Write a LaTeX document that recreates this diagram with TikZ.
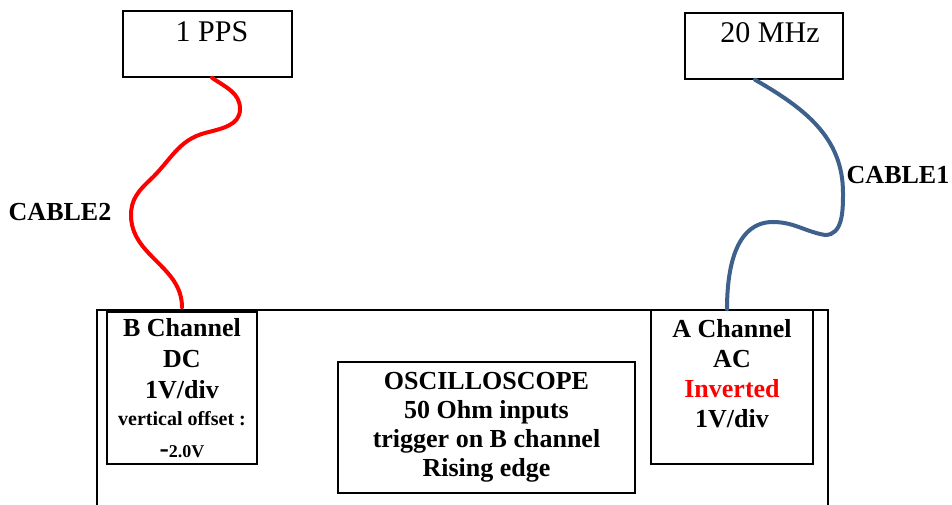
\documentclass[tikz,border=0pt]{standalone}
\usepackage{fontspec}
\setmainfont{Liberation Serif}
\usetikzlibrary{positioning}
\definecolor{cableblue}{RGB}{62,96,140}
\begin{document}
\begin{tikzpicture}[x=1pt,y=1pt,
  box/.style={rectangle,draw,line width=1.5pt,inner sep=0pt},
  bf/.style={font=\fontsize{26}{31}\selectfont\bfseries,align=center,inner sep=0pt},
  cable/.style={line width=4pt,line cap=round}]
\useasboundingbox (0,0) rectangle (952,504);
\clip (0,0) rectangle (952,504);
% sources
\node (pps) [box,minimum width=169pt,minimum height=66pt] at (207.5,460) {};
\node (ppstxt) [below=11pt of pps.north,xshift=4.5pt,inner sep=0pt,font=\fontsize{30}{34}\selectfont] {1 PPS};
\node (mhz) [box,minimum width=158pt,minimum height=66pt] at (764,458) {};
\node (mhztxt) [below=10pt of mhz.north,xshift=6pt,inner sep=0pt,font=\fontsize{30}{34}\selectfont] {20 MHz};
% oscilloscope
\draw [box] (97,-20) rectangle (828,194);
\node (bch) [box,bf,minimum width=150pt,minimum height=152pt] at (182,116)
  {B Channel\\DC\\1V/div\\[-4pt]{\fontsize{20}{20}\selectfont vertical offset :}\\[1pt]{\fontsize{28}{28}\selectfont -}{\fontsize{18}{18}\selectfont 2.0V}};
\node (ach) [box,minimum width=162pt,minimum height=154pt] at (732,117) {};
\node (achtxt) [bf,font=\fontsize{26}{30}\selectfont\bfseries,below=10pt of ach.north] {A Channel\\AC\\\textcolor{red}{Inverted}\\1V/div};
\node (scope) [box,bf,font=\fontsize{26}{29}\selectfont\bfseries,minimum width=297pt,minimum height=131pt] at (486.5,76.5)
  {OSCILLOSCOPE\\50 Ohm inputs\\trigger on B channel\\Rising edge};
% cables
\node (c2) [bf] at (60,292) {CABLE2};
\node (c1) [bf] at (898,329) {CABLE1};
\coordinate (r1) at (240,395);
\coordinate (r2) at (205,371);
\coordinate (r3) at (150,324);
\coordinate (r4) at (131,289);
\draw [cable,red] ([xshift=4.5pt]pps.south) to[out=-35,in=90] (r1) to[out=-90,in=15] (r2)
  to[out=195,in=43] (r3) to[out=223,in=90] (r4) to[out=-90,in=90] ([yshift=4pt]bch.north);
\coordinate (b1) at (843,311);
\coordinate (b2) at (825,269);
\coordinate (b3) at (773,282);
\draw [cable,cableblue] ([xshift=-9pt]mhz.south) to[out=-30,in=90] (b1) to[out=-90,in=0] (b2)
  to[out=170,in=0] (b3) to[out=180,in=90] ([xshift=-5pt]ach.north);
\end{tikzpicture}
\end{document}
